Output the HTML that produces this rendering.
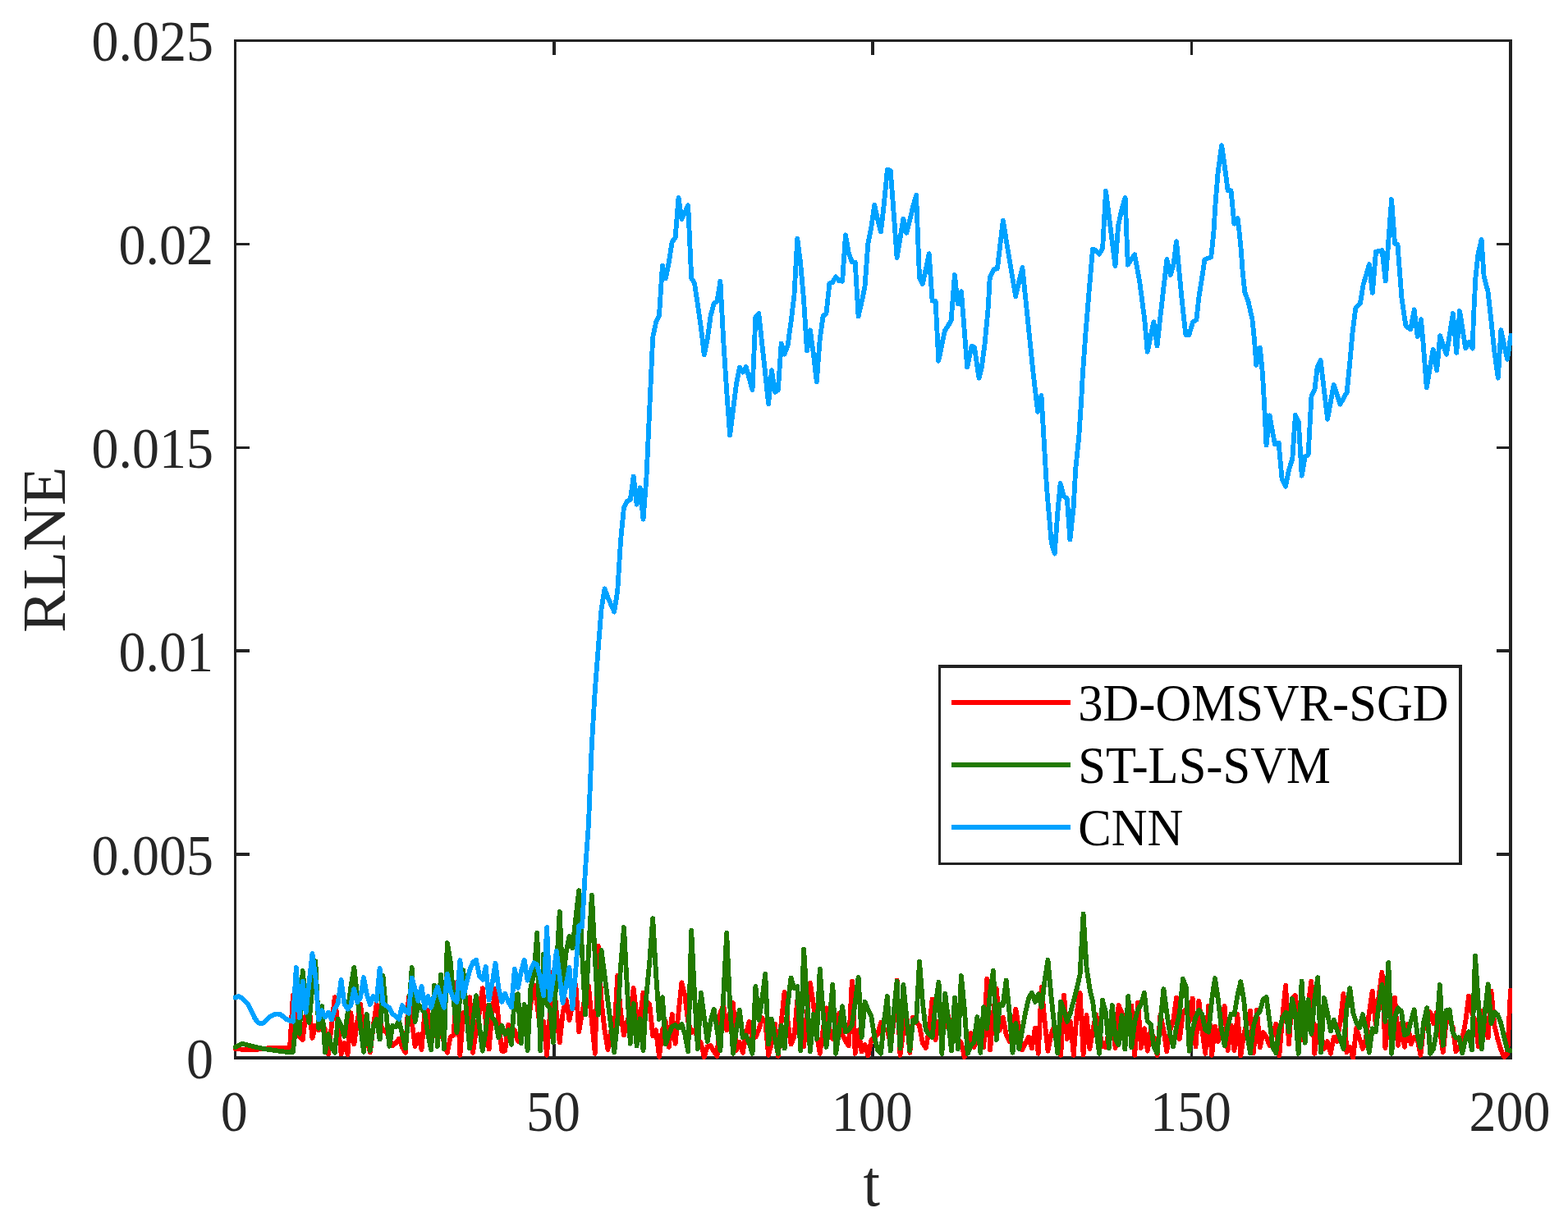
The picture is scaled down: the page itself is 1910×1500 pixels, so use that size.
<!DOCTYPE html>
<html lang="en">
<head>
<meta charset="utf-8">
<title>RLNE comparison</title>
<style>
html,body{margin:0;padding:0;background:#fff;}
body{width:1910px;height:1500px;overflow:hidden;}
svg{display:block;}
text{font-family:"Liberation Serif","Times New Roman",serif;}
.tk{font-size:66px;fill:#262626;}
.lb{font-size:73.6px;fill:#262626;}
.lg{font-size:60.6px;fill:#000;}
</style>
</head>
<body>
<svg width="1910" height="1500" viewBox="0 0 1910 1500">
<rect x="0" y="0" width="1910" height="1500" fill="#ffffff"/>
<defs><clipPath id="ax"><rect x="284" y="47" width="1558" height="1244"/></clipPath></defs>
<g stroke="#222222" stroke-width="3.5" fill="none" stroke-linecap="square" shape-rendering="crispEdges">
<line x1="674.77" y1="1289.00" x2="674.77" y2="1273.50"/><line x1="674.77" y1="49.50" x2="674.77" y2="65.00"/>
<line x1="1063.15" y1="1289.00" x2="1063.15" y2="1273.50"/><line x1="1063.15" y1="49.50" x2="1063.15" y2="65.00"/>
<line x1="1451.53" y1="1289.00" x2="1451.53" y2="1273.50"/><line x1="1451.53" y1="49.50" x2="1451.53" y2="65.00"/>
<line x1="286.50" y1="1041.10" x2="302.00" y2="1041.10"/><line x1="1840.00" y1="1041.10" x2="1824.50" y2="1041.10"/>
<line x1="286.50" y1="793.20" x2="302.00" y2="793.20"/><line x1="1840.00" y1="793.20" x2="1824.50" y2="793.20"/>
<line x1="286.50" y1="545.30" x2="302.00" y2="545.30"/><line x1="1840.00" y1="545.30" x2="1824.50" y2="545.30"/>
<line x1="286.50" y1="297.40" x2="302.00" y2="297.40"/><line x1="1840.00" y1="297.40" x2="1824.50" y2="297.40"/>
<rect x="286.50" y="49.50" width="1553.50" height="1239.50"/>
</g>
<g clip-path="url(#ax)">
<polyline points="286.5,1278.2 290.4,1278.4 294.3,1278.7 298.2,1279.1 302.2,1279.3 306.1,1279.3 310.0,1279.1 313.9,1278.7 317.8,1278.2 321.7,1277.7 325.6,1277.4 329.5,1277.2 333.5,1277.2 337.4,1277.0 341.3,1277.0 345.2,1277.2 349.1,1277.2 353.0,1277.2 356.9,1212.8 360.8,1255.2 364.8,1263.6 368.7,1267.0 372.6,1236.3 376.5,1225.9 380.4,1264.9 384.3,1249.9 388.2,1255.2 392.2,1244.7 396.1,1255.2 400.0,1284.5 403.9,1249.9 407.8,1215.1 411.7,1249.9 415.6,1284.5 419.5,1270.9 423.5,1285.0 427.4,1234.2 431.3,1272.5 435.2,1244.7 439.1,1223.8 443.0,1255.2 446.9,1265.7 450.9,1282.4 454.8,1249.9 458.7,1223.5 462.6,1244.7 466.5,1255.2 470.4,1257.3 474.3,1265.7 478.2,1274.0 482.2,1270.9 486.1,1265.7 490.0,1276.1 493.9,1282.7 497.8,1215.4 501.7,1244.7 505.6,1274.9 509.5,1260.4 513.5,1279.1 517.4,1234.2 521.3,1231.1 525.2,1265.7 529.1,1255.2 533.0,1265.7 536.9,1255.2 540.9,1270.9 544.8,1282.7 548.7,1263.6 552.6,1261.5 556.5,1197.1 560.4,1285.9 564.3,1234.2 568.2,1244.7 572.2,1215.1 576.1,1282.7 580.0,1255.2 583.9,1234.2 587.8,1204.1 591.7,1244.7 595.6,1278.5 599.5,1234.2 603.5,1204.6 607.4,1244.7 611.3,1280.6 615.2,1280.6 619.1,1248.6 623.0,1265.7 626.9,1255.2 630.9,1268.8 634.8,1255.2 638.7,1244.7 642.6,1255.2 646.5,1223.8 650.4,1200.4 654.3,1223.8 658.2,1255.2 662.2,1244.7 666.1,1285.9 670.0,1234.2 673.9,1184.0 677.8,1234.2 681.7,1270.4 685.6,1234.2 689.5,1217.7 693.5,1242.9 697.4,1223.8 701.3,1199.9 705.2,1257.1 709.1,1234.2 713.0,1213.3 716.9,1200.9 720.9,1244.7 724.8,1283.8 728.7,1152.8 732.6,1219.6 736.5,1255.2 740.4,1279.1 744.3,1255.2 748.2,1260.4 752.2,1188.9 756.1,1234.2 760.0,1261.5 763.9,1244.7 767.8,1234.2 771.7,1204.1 775.6,1239.5 779.6,1242.6 783.5,1209.8 787.4,1219.6 791.3,1223.8 795.2,1262.3 799.1,1255.2 803.0,1288.0 806.9,1255.2 810.9,1244.7 814.8,1275.9 818.7,1236.0 822.6,1271.7 826.5,1234.2 830.4,1197.3 834.3,1213.3 838.2,1244.7 842.2,1258.3 846.1,1255.2 850.0,1265.7 853.9,1270.9 857.8,1288.0 861.7,1275.1 865.6,1274.0 869.6,1281.4 873.5,1286.9 877.4,1234.2 881.3,1224.8 885.2,1255.5 889.1,1234.2 893.0,1221.9 896.9,1279.8 900.9,1269.8 904.8,1282.7 908.7,1260.4 912.6,1244.9 916.5,1265.7 920.4,1263.6 924.3,1255.2 928.2,1240.2 932.2,1244.7 936.1,1285.9 940.0,1270.9 943.9,1247.5 947.8,1286.9 951.7,1244.7 955.6,1208.8 959.6,1244.7 963.5,1272.5 967.4,1263.6 971.3,1218.5 975.2,1244.7 979.1,1275.4 983.0,1234.2 986.9,1197.8 990.9,1223.8 994.8,1260.4 998.7,1283.8 1002.6,1255.2 1006.5,1228.2 1010.4,1255.2 1014.3,1265.7 1018.2,1244.7 1022.2,1234.8 1026.1,1260.4 1030.0,1268.8 1033.9,1274.3 1037.8,1195.7 1041.7,1283.8 1045.6,1255.2 1049.6,1281.4 1053.5,1273.0 1057.4,1286.4 1061.3,1267.7 1065.2,1263.6 1069.1,1260.4 1073.0,1246.0 1076.9,1255.2 1080.9,1255.2 1084.8,1271.9 1088.7,1244.7 1092.6,1194.5 1096.5,1285.9 1100.4,1255.2 1104.3,1237.4 1108.3,1282.7 1112.2,1239.5 1116.1,1244.7 1120.0,1249.9 1123.9,1270.9 1127.8,1277.0 1131.7,1255.2 1135.6,1217.7 1139.6,1267.2 1143.5,1244.7 1147.4,1265.7 1151.3,1244.7 1155.2,1237.4 1159.1,1260.4 1163.0,1255.2 1166.9,1265.7 1170.9,1270.9 1174.8,1288.0 1178.7,1276.1 1182.6,1259.1 1186.5,1276.1 1190.4,1265.7 1194.3,1270.9 1198.3,1276.1 1202.2,1192.9 1206.1,1279.1 1210.0,1234.2 1213.9,1204.6 1217.8,1255.2 1221.7,1239.5 1225.6,1260.4 1229.6,1268.8 1233.5,1255.2 1237.4,1229.7 1241.3,1255.2 1245.2,1279.6 1249.1,1270.9 1253.0,1263.8 1256.9,1277.5 1260.9,1252.8 1264.8,1283.8 1268.7,1202.7 1272.6,1244.7 1276.5,1280.6 1280.4,1260.4 1284.3,1249.9 1288.3,1255.2 1292.2,1285.9 1296.1,1212.8 1300.0,1266.0 1303.9,1244.7 1307.8,1285.9 1311.7,1234.2 1315.6,1209.8 1319.6,1285.3 1323.5,1237.1 1327.4,1278.0 1331.3,1255.2 1335.2,1236.0 1339.1,1255.2 1343.0,1275.1 1347.0,1276.1 1350.9,1255.2 1354.8,1244.7 1358.7,1277.0 1362.6,1225.0 1366.5,1234.2 1370.4,1244.7 1374.3,1255.2 1378.3,1225.5 1382.2,1285.9 1386.1,1221.9 1390.0,1277.0 1393.9,1253.1 1397.8,1280.6 1401.7,1255.2 1405.6,1265.7 1409.6,1285.9 1413.5,1236.3 1417.4,1255.2 1421.3,1281.2 1425.2,1255.2 1429.1,1244.7 1433.0,1215.6 1437.0,1266.0 1440.9,1234.2 1444.8,1230.1 1448.7,1244.7 1452.6,1216.6 1456.5,1275.4 1460.4,1219.8 1464.3,1255.2 1468.3,1283.8 1472.2,1225.5 1476.1,1285.9 1480.0,1250.7 1483.9,1269.1 1487.8,1244.7 1491.7,1226.1 1495.6,1280.1 1499.6,1249.6 1503.5,1280.1 1507.4,1236.0 1511.3,1286.4 1515.2,1260.4 1519.1,1244.7 1523.0,1231.8 1527.0,1283.2 1530.9,1230.8 1534.8,1276.4 1538.7,1258.0 1542.6,1263.6 1546.5,1274.0 1550.4,1260.4 1554.3,1247.5 1558.3,1286.4 1562.2,1239.5 1566.1,1200.9 1570.0,1272.3 1573.9,1216.4 1577.8,1213.0 1581.7,1244.7 1585.6,1267.2 1589.6,1244.7 1593.5,1223.8 1597.4,1195.7 1601.3,1283.8 1605.2,1249.9 1609.1,1260.4 1613.0,1278.0 1617.0,1269.0 1620.9,1283.8 1624.8,1263.6 1628.7,1268.8 1632.6,1244.7 1636.5,1210.9 1640.4,1282.2 1644.3,1275.8 1648.3,1289.0 1652.2,1252.8 1656.1,1265.7 1660.0,1278.0 1663.9,1265.7 1667.8,1234.2 1671.7,1207.7 1675.7,1247.9 1679.6,1213.3 1683.5,1184.7 1687.4,1277.0 1691.3,1244.7 1695.2,1244.7 1699.1,1215.6 1703.0,1273.8 1707.0,1246.8 1710.9,1275.9 1714.8,1247.5 1718.7,1272.3 1722.6,1263.6 1726.5,1265.7 1730.4,1285.9 1734.3,1249.9 1738.3,1244.7 1742.2,1233.2 1746.1,1247.1 1750.0,1233.2 1753.9,1255.2 1757.8,1282.2 1761.7,1244.7 1765.7,1244.7 1769.6,1251.0 1773.5,1281.2 1777.4,1276.1 1781.3,1265.7 1785.2,1244.7 1789.1,1213.5 1793.0,1234.2 1797.0,1244.7 1800.9,1275.4 1804.8,1232.1 1808.7,1244.7 1812.6,1264.4 1816.5,1207.7 1820.4,1249.9 1824.3,1265.7 1828.3,1279.3 1832.2,1288.0 1836.1,1284.5 1840.0,1207.0" fill="none" stroke="#ff0000" stroke-width="5.83" stroke-linejoin="round" stroke-linecap="round" shape-rendering="crispEdges"/>
<polyline points="286.5,1276.1 290.4,1274.0 294.3,1271.9 298.2,1272.5 302.2,1273.5 306.1,1274.6 310.0,1275.6 313.9,1276.4 317.8,1277.2 321.7,1278.0 325.6,1278.7 329.5,1279.3 333.5,1279.8 337.4,1280.3 341.3,1280.8 345.2,1281.4 349.1,1281.9 353.0,1282.1 356.9,1281.9 360.8,1244.7 364.8,1259.7 368.7,1183.1 372.6,1223.8 376.5,1246.1 380.4,1202.8 384.3,1171.4 388.2,1252.9 392.2,1226.1 396.1,1282.2 400.0,1260.1 403.9,1276.1 407.8,1282.7 411.7,1241.6 415.6,1249.9 419.5,1262.8 423.5,1234.2 427.4,1202.8 431.3,1179.0 435.2,1213.3 439.1,1249.9 443.0,1281.7 446.9,1236.0 450.9,1280.1 454.8,1249.9 458.7,1242.1 462.6,1266.5 466.5,1188.9 470.4,1234.2 474.3,1274.9 478.2,1249.9 482.2,1251.0 486.1,1243.7 490.0,1260.4 493.9,1277.5 497.8,1234.2 501.7,1179.0 505.6,1245.0 509.5,1223.8 513.5,1229.0 517.4,1234.2 521.3,1260.4 525.2,1279.1 529.1,1200.9 533.0,1274.9 536.9,1187.9 540.9,1278.0 544.8,1148.9 548.7,1171.4 552.6,1218.5 556.5,1258.1 560.4,1213.3 564.3,1182.1 568.2,1234.2 572.2,1277.5 576.1,1244.7 580.0,1213.0 583.9,1249.9 587.8,1280.6 591.7,1255.2 595.6,1224.5 599.5,1239.5 603.5,1244.7 607.4,1264.4 611.3,1249.6 615.2,1260.4 619.1,1255.2 623.0,1272.8 626.9,1213.3 630.9,1211.2 634.8,1271.2 638.7,1224.0 642.6,1280.1 646.5,1202.8 650.4,1187.1 654.3,1136.9 658.2,1280.1 662.2,1162.7 666.1,1223.8 670.0,1229.0 673.9,1270.2 677.8,1181.9 681.7,1111.2 685.6,1200.0 689.5,1160.9 693.5,1141.0 697.4,1155.2 701.3,1119.1 705.2,1085.0 709.1,1160.9 713.0,1236.6 716.9,1160.9 720.9,1090.8 724.8,1166.2 728.7,1236.6 732.6,1158.0 736.5,1188.9 740.4,1219.9 744.3,1250.8 748.2,1282.2 752.2,1244.7 756.1,1176.6 760.0,1130.1 763.9,1202.8 767.8,1271.7 771.7,1222.9 775.6,1274.3 779.6,1241.3 783.5,1280.1 787.4,1213.3 791.3,1171.4 795.2,1119.1 799.1,1187.1 803.0,1242.1 806.9,1215.1 810.9,1272.3 814.8,1260.4 818.7,1251.0 822.6,1249.1 826.5,1252.6 830.4,1248.1 834.3,1260.4 838.2,1281.2 842.2,1133.9 846.1,1213.3 850.0,1278.0 853.9,1209.8 857.8,1239.5 861.7,1269.1 865.6,1244.7 869.6,1229.7 873.5,1255.2 877.4,1280.1 881.3,1213.3 885.2,1136.9 889.1,1223.8 893.0,1283.8 896.9,1255.2 900.9,1230.8 904.8,1264.6 908.7,1261.5 912.6,1270.9 916.5,1283.8 920.4,1202.0 924.3,1242.9 928.2,1218.5 932.2,1186.8 936.1,1272.3 940.0,1241.8 943.9,1265.7 947.8,1283.8 951.7,1249.6 955.6,1277.5 959.6,1223.8 963.5,1191.5 967.4,1203.9 971.3,1202.0 975.2,1280.1 979.1,1156.4 983.0,1218.5 986.9,1281.2 990.9,1236.0 994.8,1266.0 998.7,1180.7 1002.6,1234.2 1006.5,1275.9 1010.4,1244.7 1014.3,1199.9 1018.2,1283.8 1022.2,1255.2 1026.1,1226.1 1030.0,1257.6 1033.9,1254.7 1037.8,1248.9 1041.7,1221.7 1045.6,1191.0 1049.6,1263.9 1053.5,1220.8 1057.4,1230.1 1061.3,1238.4 1065.2,1263.6 1069.1,1279.3 1073.0,1283.8 1076.9,1244.7 1080.9,1214.0 1084.8,1280.6 1088.7,1234.2 1092.6,1195.7 1096.5,1277.5 1100.4,1199.9 1104.3,1239.5 1108.3,1280.1 1112.2,1243.1 1116.1,1244.7 1120.0,1171.6 1123.9,1221.7 1127.8,1255.2 1131.7,1260.4 1135.6,1263.9 1139.6,1223.8 1143.5,1196.8 1147.4,1283.8 1151.3,1210.7 1155.2,1244.7 1159.1,1280.6 1163.0,1215.6 1166.9,1278.2 1170.9,1188.9 1174.8,1229.0 1178.7,1283.8 1182.6,1274.0 1186.5,1269.8 1190.4,1239.2 1194.3,1282.7 1198.3,1227.1 1202.2,1253.1 1206.1,1208.1 1210.0,1182.8 1213.9,1267.0 1217.8,1224.0 1221.7,1224.8 1225.6,1194.7 1229.6,1234.2 1233.5,1282.7 1237.4,1247.0 1241.3,1278.0 1245.2,1255.2 1249.1,1234.2 1253.0,1216.4 1256.9,1209.8 1260.9,1220.9 1264.8,1211.4 1268.7,1227.2 1272.6,1194.5 1276.5,1169.8 1280.4,1213.3 1284.3,1249.9 1288.3,1283.2 1292.2,1220.8 1296.1,1232.1 1300.0,1245.0 1303.9,1234.2 1307.8,1219.6 1311.7,1204.9 1315.6,1187.1 1319.6,1113.7 1323.5,1178.2 1327.4,1204.9 1331.3,1221.7 1335.2,1255.2 1339.1,1283.8 1343.0,1218.7 1347.0,1234.2 1350.9,1277.5 1354.8,1225.0 1358.7,1265.7 1362.6,1273.3 1366.5,1237.4 1370.4,1278.5 1374.3,1214.0 1378.3,1276.4 1382.2,1244.7 1386.1,1230.1 1390.0,1223.8 1393.9,1209.8 1397.8,1244.7 1401.7,1248.1 1405.6,1276.1 1409.6,1283.2 1413.5,1244.7 1417.4,1205.1 1421.3,1234.2 1425.2,1260.4 1429.1,1275.4 1433.0,1251.7 1437.0,1234.2 1440.9,1192.9 1444.8,1202.8 1448.7,1280.6 1452.6,1255.2 1456.5,1239.5 1460.4,1230.8 1464.3,1236.3 1468.3,1255.2 1472.2,1257.6 1476.1,1218.5 1480.0,1192.0 1483.9,1218.5 1487.8,1253.1 1491.7,1274.3 1495.6,1249.9 1499.6,1235.5 1503.5,1236.3 1507.4,1213.3 1511.3,1196.2 1515.2,1218.5 1519.1,1260.4 1523.0,1283.2 1527.0,1249.9 1530.9,1236.9 1534.8,1232.1 1538.7,1217.5 1542.6,1215.1 1546.5,1244.7 1550.4,1276.1 1554.3,1283.2 1558.3,1255.2 1562.2,1240.5 1566.1,1233.9 1570.0,1257.6 1573.9,1217.2 1577.8,1234.2 1581.7,1283.8 1585.6,1195.7 1589.6,1270.7 1593.5,1218.2 1597.4,1259.7 1601.3,1218.5 1605.2,1191.0 1609.1,1282.2 1613.0,1216.1 1617.0,1234.2 1620.9,1256.5 1624.8,1242.8 1628.7,1255.2 1632.6,1265.7 1636.5,1278.0 1640.4,1229.0 1644.3,1204.1 1648.3,1234.2 1652.2,1245.8 1656.1,1252.4 1660.0,1236.0 1663.9,1255.2 1667.8,1282.7 1671.7,1253.3 1675.7,1257.3 1679.6,1223.8 1683.5,1199.9 1687.4,1244.7 1691.3,1173.2 1695.2,1283.8 1699.1,1239.5 1703.0,1228.2 1707.0,1232.1 1710.9,1261.5 1714.8,1259.4 1718.7,1244.7 1722.6,1230.3 1726.5,1260.4 1730.4,1276.4 1734.3,1244.7 1738.3,1228.2 1742.2,1283.8 1746.1,1278.2 1750.0,1255.2 1753.9,1200.2 1757.8,1273.8 1761.7,1231.1 1765.7,1230.3 1769.6,1258.3 1773.5,1264.6 1777.4,1264.3 1781.3,1283.2 1785.2,1265.7 1789.1,1257.3 1793.0,1279.6 1797.0,1165.0 1800.9,1223.8 1804.8,1278.5 1808.7,1234.2 1812.6,1199.4 1816.5,1247.1 1820.4,1233.4 1824.3,1236.3 1828.3,1246.8 1832.2,1263.6 1836.1,1279.3 1840.0,1280.3" fill="none" stroke="#217a00" stroke-width="5.83" stroke-linejoin="round" stroke-linecap="round" shape-rendering="crispEdges"/>
<polyline points="286.5,1215.6 290.4,1214.0 294.3,1216.1 298.2,1219.3 302.2,1223.8 306.1,1231.6 310.0,1240.0 313.9,1245.8 317.8,1247.6 321.7,1245.8 325.6,1242.1 329.5,1238.4 333.5,1236.3 337.4,1235.5 341.3,1235.8 345.2,1239.0 349.1,1242.1 353.0,1243.7 356.9,1244.7 360.8,1179.0 364.8,1240.0 368.7,1195.7 372.6,1233.7 376.5,1197.8 380.4,1162.0 384.3,1190.3 388.2,1242.1 392.2,1231.3 396.1,1239.5 400.0,1233.9 403.9,1242.4 407.8,1229.0 411.7,1222.7 415.6,1194.1 419.5,1223.8 423.5,1229.5 427.4,1224.8 431.3,1205.1 435.2,1221.2 439.1,1215.4 443.0,1191.0 446.9,1212.3 450.9,1224.1 454.8,1214.0 458.7,1219.6 462.6,1180.0 466.5,1222.7 470.4,1225.3 474.3,1228.0 478.2,1235.8 482.2,1238.4 486.1,1241.9 490.0,1225.0 493.9,1232.1 497.8,1234.8 501.7,1191.5 505.6,1205.4 509.5,1219.6 513.5,1202.0 517.4,1228.3 521.3,1214.0 525.2,1227.7 529.1,1213.3 533.0,1202.5 536.9,1216.4 540.9,1227.7 544.8,1186.8 548.7,1207.0 552.6,1217.5 556.5,1220.9 560.4,1170.1 564.3,1214.9 568.2,1198.6 572.2,1181.9 576.1,1172.5 580.0,1169.8 583.9,1189.2 587.8,1193.7 591.7,1177.9 595.6,1218.3 599.5,1198.6 603.5,1173.7 607.4,1204.9 611.3,1220.9 615.2,1210.9 619.1,1220.6 623.0,1227.2 626.9,1180.7 630.9,1203.9 634.8,1184.0 638.7,1169.8 642.6,1194.8 646.5,1181.9 650.4,1173.2 654.3,1175.6 658.2,1192.4 662.2,1213.1 666.1,1130.1 670.0,1218.8 673.9,1192.4 677.8,1158.8 681.7,1190.3 685.6,1222.0 689.5,1200.7 693.5,1179.0 697.4,1229.3 701.3,1181.9 705.2,1128.3 709.1,1129.3 713.0,1059.7 716.9,1005.2 720.9,906.7 724.8,841.3 728.7,790.2 732.6,742.0 736.5,717.3 740.4,727.9 744.3,736.8 748.2,745.6 752.2,720.3 756.1,658.2 760.0,618.2 763.9,610.8 767.8,608.7 771.7,580.5 775.6,614.7 779.6,594.3 783.5,632.8 787.4,583.0 791.3,497.0 795.2,411.0 799.1,392.8 803.0,384.3 806.9,323.4 810.9,339.4 814.8,319.5 818.7,294.6 822.6,290.0 826.5,240.9 830.4,266.9 834.3,258.6 838.2,250.4 842.2,338.5 846.1,345.7 850.0,371.8 853.9,399.0 857.8,432.5 861.7,413.4 865.6,385.0 869.6,369.9 873.5,367.4 877.4,342.6 881.3,416.0 885.2,476.6 889.1,530.6 893.0,499.5 896.9,468.0 900.9,447.6 904.8,453.6 908.7,446.9 912.6,461.1 916.5,475.2 920.4,385.8 924.3,382.1 928.2,418.5 932.2,455.2 936.1,492.2 940.0,451.3 943.9,477.8 947.8,475.5 951.7,418.5 955.6,431.6 959.6,421.0 963.5,392.4 967.4,360.6 971.3,290.9 975.2,321.4 979.1,365.9 983.0,427.4 986.9,402.4 990.9,431.6 994.8,465.4 998.7,413.3 1002.6,385.2 1006.5,381.9 1010.4,345.6 1014.3,343.9 1018.2,337.3 1022.2,342.3 1026.1,342.7 1030.0,286.3 1033.9,308.9 1037.8,319.0 1041.7,319.7 1045.6,385.5 1049.6,368.1 1053.5,349.2 1057.4,296.5 1061.3,276.9 1065.2,249.6 1069.1,267.7 1073.0,282.5 1076.9,248.1 1080.9,206.6 1084.8,208.1 1088.7,260.0 1092.6,313.9 1096.5,290.0 1100.4,266.6 1104.3,283.8 1108.3,267.7 1112.2,251.6 1116.1,237.9 1120.0,339.0 1123.9,346.0 1127.8,327.9 1131.7,309.2 1135.6,366.5 1139.6,367.0 1143.3,439.7 1150.8,403.3 1158.6,390.9 1162.9,335.1 1166.7,370.3 1171.0,355.2 1178.2,447.6 1183.5,421.9 1187.0,423.0 1192.5,460.7 1195.9,447.2 1199.8,417.1 1203.8,373.9 1205.7,338.5 1210.7,328.3 1214.9,327.4 1221.8,268.8 1237.1,361.2 1245.4,326.0 1258.7,455.9 1264.1,501.9 1268.5,482.1 1274.9,592.4 1278.2,631.6 1280.8,661.7 1284.7,674.6 1288.4,623.8 1291.6,589.0 1295.8,604.8 1299.8,607.4 1303.4,657.5 1307.6,618.5 1310.3,570.9 1314.3,531.6 1316.9,492.4 1318.9,455.9 1322.6,404.0 1326.9,351.6 1331.0,303.8 1333.9,304.6 1338.9,309.6 1343.1,302.7 1347.0,232.9 1358.5,324.0 1362.1,275.2 1366.6,254.2 1370.6,240.8 1373.8,322.7 1382.1,310.1 1388.2,343.2 1394.2,388.9 1397.7,428.6 1405.3,392.4 1409.5,421.4 1413.8,382.4 1421.4,316.0 1425.8,334.9 1429.5,322.3 1433.0,294.0 1439.4,362.7 1444.3,407.9 1448.3,408.3 1453.1,392.2 1457.4,389.6 1460.3,362.7 1465.5,330.0 1467.4,316.4 1475.3,313.1 1478.3,284.3 1480.3,251.6 1483.4,212.4 1488.1,177.0 1491.9,203.2 1495.6,232.0 1499.5,232.3 1503.4,272.6 1507.6,266.0 1509.1,277.8 1511.7,304.0 1513.6,330.2 1516.3,356.2 1520.5,367.3 1525.4,388.9 1528.1,415.1 1530.3,444.9 1534.9,423.8 1538.0,456.2 1539.9,488.9 1542.5,542.3 1546.5,506.2 1549.7,524.2 1553.0,541.3 1557.6,539.7 1561.5,583.1 1566.1,592.7 1570.0,572.7 1574.3,558.9 1577.9,505.8 1581.8,513.8 1585.7,579.6 1589.7,556.3 1593.6,554.3 1597.5,482.4 1601.4,475.2 1604.7,447.0 1608.6,438.8 1617.1,510.9 1624.6,468.9 1632.5,492.6 1640.7,477.9 1644.2,442.6 1647.7,403.3 1651.4,375.2 1657.0,369.3 1660.6,347.0 1667.9,322.1 1671.8,356.9 1676.0,306.8 1683.6,305.1 1687.7,342.5 1695.1,243.0 1699.0,296.9 1702.5,298.2 1707.4,363.0 1712.4,397.1 1718.2,401.4 1722.7,377.4 1726.7,410.2 1731.0,389.2 1733.9,421.6 1737.8,472.4 1745.7,426.1 1750.2,451.5 1754.2,409.1 1762.0,431.8 1769.9,382.0 1774.2,429.9 1778.1,379.0 1785.2,424.6 1789.8,416.6 1793.8,424.6 1794.8,390.5 1797.4,338.2 1800.7,308.1 1804.6,292.0 1807.6,336.9 1812.5,355.2 1816.4,390.5 1820.3,428.2 1824.8,460.6 1828.4,402.3 1836.0,437.7 1840.5,408.5" fill="none" stroke="#00a2ff" stroke-width="5.83" stroke-linejoin="round" stroke-linecap="round" shape-rendering="crispEdges"/>
</g>
<text class="tk" text-anchor="middle" transform="translate(285.20,1377.70) scale(1,1.045)">0</text>
<text class="tk" text-anchor="middle" transform="translate(673.88,1377.70) scale(1,1.045)">50</text>
<text class="tk" text-anchor="middle" transform="translate(1062.25,1377.70) scale(1,1.045)">100</text>
<text class="tk" text-anchor="middle" transform="translate(1450.62,1377.70) scale(1,1.045)">150</text>
<text class="tk" text-anchor="middle" transform="translate(1839.00,1377.70) scale(1,1.045)">200</text>
<text class="tk" text-anchor="end" transform="translate(260.00,1313.60) scale(1,1.045)">0</text>
<text class="tk" text-anchor="end" transform="translate(260.00,1065.70) scale(1,1.045)">0.005</text>
<text class="tk" text-anchor="end" transform="translate(260.00,817.80) scale(1,1.045)">0.01</text>
<text class="tk" text-anchor="end" transform="translate(260.00,569.90) scale(1,1.045)">0.015</text>
<text class="tk" text-anchor="end" transform="translate(260.00,322.00) scale(1,1.045)">0.02</text>
<text class="tk" text-anchor="end" transform="translate(260.00,74.10) scale(1,1.045)">0.025</text>
<text class="lb" text-anchor="middle" transform="translate(1061.80,1469.00) scale(1,1.085)">t</text>
<text class="lb" text-anchor="middle" transform="translate(79.00,669.80) scale(1,1.053) rotate(-90)">RLNE</text>
<g shape-rendering="crispEdges">
<rect x="1144.5" y="812" width="634.5" height="240.5" fill="#ffffff" stroke="#222222" stroke-width="3.5"/>
<line x1="1159" y1="855.8" x2="1304" y2="855.8" stroke="#ff0000" stroke-width="5.83"/>
<line x1="1159" y1="932.0" x2="1304" y2="932.0" stroke="#217a00" stroke-width="5.83"/>
<line x1="1159" y1="1008.0" x2="1304" y2="1008.0" stroke="#00a2ff" stroke-width="5.83"/>
</g>
<text class="lg" text-anchor="start" transform="translate(1313.30,878.30) scale(1,1.045)">3D-OMSVR-SGD</text>
<text class="lg" text-anchor="start" transform="translate(1313.30,954.30) scale(1,1.045)">ST-LS-SVM</text>
<text class="lg" text-anchor="start" transform="translate(1313.30,1030.30) scale(1,1.045)">CNN</text>
</svg>
</body>
</html>
